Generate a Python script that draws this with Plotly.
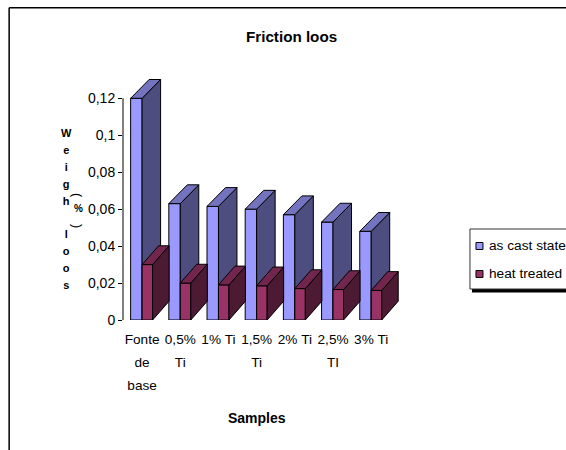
import plotly.graph_objects as go

# Data
categories = ["Fonte<br>de<br>base", "0,5%<br>Ti", "1%&nbsp;Ti", "1,5%<br>Ti",
              "2%&nbsp;Ti", "2,5%<br>TI", "3%&nbsp;Ti"]
as_cast_state = [0.12, 0.063, 0.0615, 0.06, 0.057, 0.053, 0.048]
heat_treated = [0.03, 0.02, 0.019, 0.0185, 0.017, 0.0165, 0.016]
y_ticks = [0, 0.02, 0.04, 0.06, 0.08, 0.1, 0.12]
title_text = "Friction loos"
x_title = "Samples"
y_title_letters = ["W", "e", "i", "g", "h", " ", "l", "o", "o", "s"]
legend_names = ["as cast state", "heat treated"]

W, H = 566, 450
FONT = "Liberation Sans, Arial, sans-serif"
# plot-area pixels; the area reaches past the last category and above 0.12 to hold the 3D depth
PL, PR, PT, PB = 122.9, 412.0, 70.0, 320.0
px_x = 38.2                 # pixels per category
px_y = 221.7 / 0.12         # pixels per unit
x_max = -0.5 + (PR - PL) / px_x
y_max = (PB - PT) / px_y


def px(x):
    return (x - PL) / (PR - PL)


def py(y):
    return (PB - y) / (PB - PT)


def faces(values, left, right, depth_x_px, depth_y_px):
    dx, dy = depth_x_px / px_x, depth_y_px / px_y
    sx, sy, tx, ty = [], [], [], []
    for i, v in enumerate(values):
        a, b = i + left, i + right
        sx += [b, b + dx, b + dx, b, b, None]
        sy += [0, dy, v + dy, v, 0, None]
        tx += [a, a + dx, b + dx, b, a, None]
        ty += [v, v + dy, v + dy, v, v, None]
    return sx, sy, tx, ty


def face_trace(x, y, color, xa, ya):
    return go.Scatter(x=x, y=y, mode="lines", fill="toself", fillcolor=color,
                      line=dict(color="#000000", width=1), cliponaxis=False,
                      hoverinfo="skip", showlegend=False, xaxis=xa, yaxis=ya)


xs = list(range(len(categories)))
fig = go.Figure()

# series 1 on base axes
fig.add_trace(go.Bar(x=xs, y=as_cast_state, offset=-0.3, width=0.3, name=legend_names[0],
                     marker=dict(color="#9999FF", line=dict(color="#000000", width=1)),
                     cliponaxis=False, showlegend=False))
s = faces(as_cast_state, -0.3, 0.0, 18.5, 18.8)
fig.add_trace(face_trace(s[0], s[1], "#4D4D80", "x", "y"))
fig.add_trace(face_trace(s[2], s[3], "#7373BF", "x", "y"))

# series 2 on an overlaid pair of axes so that it paints over series 1
fig.add_trace(go.Bar(x=xs, y=heat_treated, offset=0.0, width=0.275, name=legend_names[1],
                     marker=dict(color="#993366", line=dict(color="#000000", width=1)),
                     cliponaxis=False, showlegend=False, xaxis="x2", yaxis="y2"))
s = faces(heat_treated, 0.0, 0.275, 16.5, 18.8)
fig.add_trace(face_trace(s[0], s[1], "#4D1A33", "x2", "y2"))
fig.add_trace(face_trace(s[2], s[3], "#73264D", "x2", "y2"))

tick_text = [f'<span style="font-size:13.6px">{c}</span>' for c in categories]

shapes = [
    dict(type="line", xref="paper", yref="paper", x0=px(9), x1=px(570), y0=py(7.8), y1=py(7.8),
         line=dict(color="#000000", width=1.5)),
    dict(type="line", xref="paper", yref="paper", x0=px(9), x1=px(9), y0=py(7.8), y1=py(455),
         line=dict(color="#000000", width=1.5)),
    # value axis line stops at the top tick
    dict(type="line", xref="x domain", yref="y", x0=0, x1=0, y0=0, y1=max(y_ticks),
         line=dict(color="#000000", width=1)),
    dict(type="rect", xref="paper", yref="paper", x0=px(472), x1=px(575), y0=py(232), y1=py(292.5),
         fillcolor="#000000", line=dict(width=0)),
    dict(type="rect", xref="paper", yref="paper", x0=px(470), x1=px(575), y0=py(229), y1=py(289),
         fillcolor="#FFFFFF", line=dict(color="#333333", width=1)),
    dict(type="rect", xref="paper", yref="paper", x0=px(476), x1=px(483), y0=py(242.5), y1=py(249.5),
         fillcolor="#9999FF", line=dict(color="#000000", width=1)),
    dict(type="rect", xref="paper", yref="paper", x0=px(476), x1=px(483), y0=py(270.5), y1=py(277.5),
         fillcolor="#993366", line=dict(color="#000000", width=1)),
]


def note(text, x, y, size, bold=False, anchor="center", angle=0):
    return dict(text=f"<b>{text}</b>" if bold else text, x=px(x), y=py(y), xref="paper", yref="paper",
                showarrow=False, xanchor=anchor, yanchor="middle", textangle=angle,
                font=dict(family=FONT, size=size, color="#000000"))


y_letters = "<br>".join(f'<span style="font-size:11px">{c if c != " " else "&nbsp;"}</span>'
                        for c in y_title_letters)
annotations = [
    note(title_text, 291.5, 36, 15.2, True),
    note(x_title, 256.5, 418, 14, True),
    note(y_letters, 66, 209, 13, True),
    note("(", 77, 195, 12.5, False, angle=90),
    note("%", 78, 208, 10, True),
    note(")", 77, 226, 12.5, False, angle=90),
    note(legend_names[0], 487.5, 245, 13.7, anchor="left"),
    note(legend_names[1], 487.5, 273, 13.7, anchor="left"),
]

fig.update_layout(
    width=W, height=H, margin=dict(l=PL, r=W - PR, t=PT, b=H - PB, pad=0, autoexpand=False),
    paper_bgcolor="#FFFFFF", plot_bgcolor="rgba(0,0,0,0)", showlegend=False,
    separators=",.", barmode="overlay", font=dict(family=FONT, size=14, color="#000000"),
    shapes=shapes, annotations=annotations,
    xaxis=dict(range=[-0.5, x_max], tickmode="array", tickvals=xs, ticktext=tick_text, tickangle=0,
               showgrid=False, zeroline=False, showline=False, ticks="outside", ticklen=1,
               tickcolor="rgba(0,0,0,0)", tickfont=dict(family=FONT, size=18)),
    yaxis=dict(range=[0, y_max], tickmode="array", tickvals=y_ticks, showgrid=False, zeroline=False,
               showline=False, ticks="outside", ticklen=4,
               tickcolor="#000000", tickwidth=1, tickfont=dict(family=FONT, size=14)),
    xaxis2=dict(range=[-0.5, x_max], overlaying="x", visible=False),
    yaxis2=dict(range=[0, y_max], overlaying="y", visible=False),
)

fig.write_html("out.html", config=dict(displayModeBar=False),
               post_script="document.body.style.margin='0';document.documentElement.style.overflow='hidden';")
